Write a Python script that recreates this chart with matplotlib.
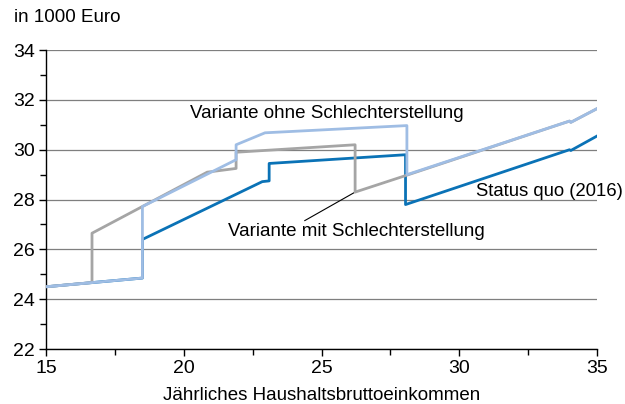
import matplotlib.pyplot as plt
from matplotlib.ticker import MultipleLocator

plt.rcParams['font.family'] = ['Liberation Sans', 'DejaVu Sans']

# Status quo (2016)
x_status = [15, 18.5, 18.5, 22.85, 23.1, 23.1, 28.05, 28.05, 34.0, 34.05, 35]
y_status = [24.5, 24.85, 26.4, 28.72, 28.75, 29.45, 29.8, 27.8, 30.0, 29.97, 30.55]

# Variante mit Schlechterstellung
x_mit = [15, 16.67, 16.67, 20.85, 21.9, 21.9, 26.22, 26.22, 28.1, 34.0, 34.05, 35]
y_mit = [24.5, 24.67, 26.65, 29.1, 29.25, 29.9, 30.2, 28.3, 28.98, 31.15, 31.1, 31.65]

# Variante ohne Schlechterstellung
x_ohne = [15, 18.5, 18.5, 21.9, 21.9, 22.95, 28.1, 28.1, 34.0, 34.05, 35]
y_ohne = [24.5, 24.85, 27.72, 29.6, 30.2, 30.68, 30.97, 29.0, 31.15, 31.1, 31.65]

fig = plt.figure(figsize=(6.25, 4.04), dpi=100)
ax = fig.add_axes([0.0736, 0.136, 0.8816, 0.740])

ax.plot(x_status, y_status, color="#0a72b6", lw=2.0, zorder=3)
ax.plot(x_mit, y_mit, color="#a5a5a5", lw=2.0, zorder=4)
ax.plot(x_ohne, y_ohne, color="#9fbde4", lw=2.0, zorder=5)

ax.set_xlim(15, 35)
ax.set_ylim(22, 34)
ax.xaxis.set_major_locator(MultipleLocator(5))
ax.xaxis.set_minor_locator(MultipleLocator(2.5))
ax.yaxis.set_major_locator(MultipleLocator(2))
ax.yaxis.set_minor_locator(MultipleLocator(1))
ax.grid(axis="y", which="major", color="#7f7f7f", lw=0.9)
ax.set_axisbelow(True)

for side in ["top", "right"]:
    ax.spines[side].set_visible(False)
for side in ["left", "bottom"]:
    ax.spines[side].set_linewidth(1.0)
ax.tick_params(which="both", direction="out", length=4, width=1.0, labelsize=14, pad=3)
ax.tick_params(which="major", length=5)

ax.set_xlabel("Jährliches Haushaltsbruttoeinkommen", fontsize=13.5, labelpad=7)
fig.text(14 / 625, 1 - 18 / 404, "in 1000 Euro", fontsize=13.5, va="center", ha="left")

ax.annotate("Variante ohne Schlechterstellung", xy=(20.23, 31.47), fontsize=13.5,
            ha="left", va="center")
ax.annotate("Status quo (2016)", xy=(30.62, 28.34), fontsize=13.3,
            ha="left", va="center", annotation_clip=False)
ax.annotate("Variante mit Schlechterstellung", xy=(26.22, 28.3),
            xytext=(21.6, 26.7), fontsize=13.5, ha="left", va="center",
            arrowprops=dict(arrowstyle="-", color="black", lw=0.8,
                            shrinkA=0, shrinkB=0,
                            relpos=(0.28, 1.0)))

fig.savefig("out.png", dpi=100)
